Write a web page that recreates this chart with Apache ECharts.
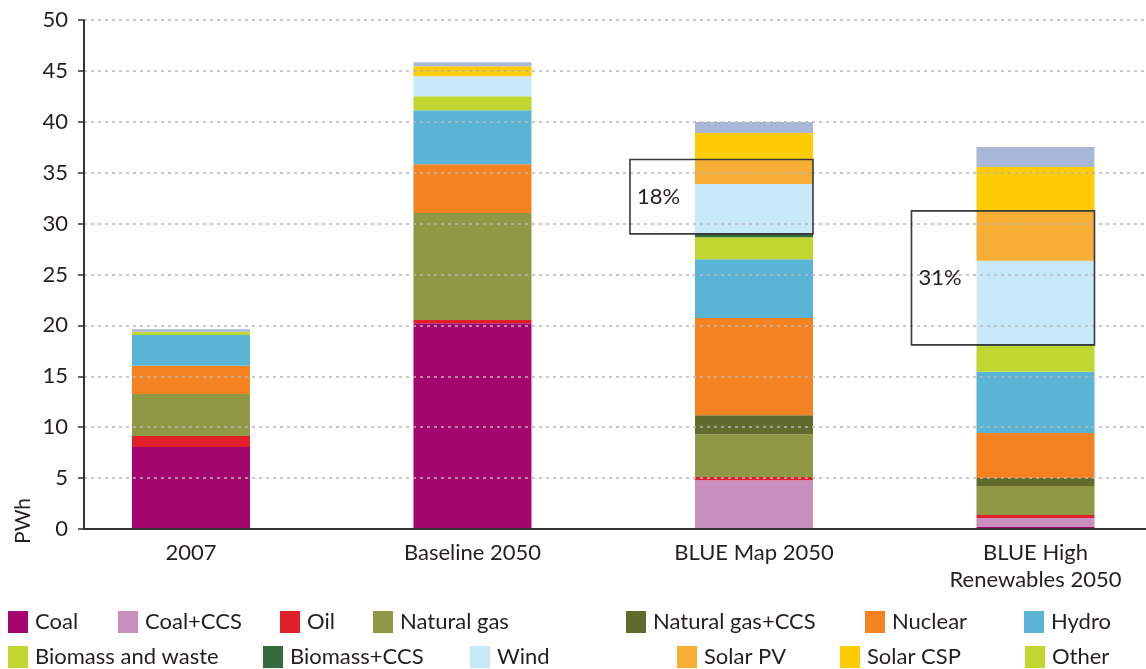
<!DOCTYPE html>
<html>
<head>
<meta charset="utf-8">
<script src="https://cdn.jsdelivr.net/npm/echarts@6/dist/echarts.min.js"></script>
<style>
html,body{margin:0;padding:0;background:#fff;}
#chart{width:1146px;height:669px;}
</style>
</head>
<body>
<div id="chart"></div>
<script>
// ---- data ----
const categories = ['2007', 'Baseline 2050', 'BLUE Map 2050', 'BLUE High\nRenewables 2050'];
const yTicks = [0, 5, 10, 15, 20, 25, 30, 35, 40, 45, 50];
const seriesNames = ['Coal', 'Coal+CCS', 'Oil', 'Natural gas', 'Natural gas+CCS', 'Nuclear', 'Hydro',
  'Biomass and waste', 'Biomass+CCS', 'Wind', 'Solar PV', 'Solar CSP', 'Other'];
const coal       = [8.05, 20.2, 0.1, 0.2];
const coalCCS    = [0, 0, 4.7, 0.88];
const oil        = [1.08, 0.33, 0.3, 0.3];
const natGas     = [4.13, 10.5, 4.2, 2.85];
const natGasCCS  = [0, 0, 1.87, 0.79];
const nuclear    = [2.78, 4.8, 9.56, 4.42];
const hydro      = [3.02, 5.3, 5.77, 6.0];
const biomass    = [0.32, 1.38, 2.16, 2.55];
const biomassCCS = [0, 0, 0.33, 0.1];
const wind       = [0, 1.96, 4.91, 8.25];
const solarPV    = [0, 0, 2.4, 4.91];
const solarCSP   = [0, 0.98, 2.6, 4.32];
const other      = [0.24, 0.4, 1.08, 1.96];
// share annotations: category index, label (box spans Wind + Solar PV)
const shareCats   = [2, 3];
const shareLabels = ['18%', '31%'];

// ---- styles / layout ----
const values = [coal, coalCCS, oil, natGas, natGasCCS, nuclear, hydro, biomass, biomassCCS, wind, solarPV, solarCSP, other];
const colors = ['#a4056e', '#c98fbf', '#e2202a', '#8f9845', '#616b2e', '#f58220', '#5ab4d6',
  '#bfd730', '#346a3d', '#c8e9f8', '#f7ae35', '#ffcb05', '#a9b8d8'];
const legendIconColor = {'Other': '#bfd730'};
const legendPos = {
  'Coal': [8, 0], 'Coal+CCS': [118, 0], 'Oil': [280, 0], 'Natural gas': [373, 0],
  'Natural gas+CCS': [626, 0], 'Nuclear': [865, 0], 'Hydro': [1024, 0],
  'Biomass and waste': [8, 1], 'Biomass+CCS': [263, 1], 'Wind': [470, 1],
  'Solar PV': [677, 1], 'Solar CSP': [840, 1], 'Other': [1025, 1]
};
const FONT = 'Lato';
const TXT = '#231f20';
const BAR_W = 118;
// x scale: categories sit at 0..3; the plot starts a bit left of the first one
const X_STEP = 0.02, X_MIN = -0.38, X_MAX = 3.3926;

// stacked segment bounds: [category, base, top]
function cum(cat, uptoIdx) { let s = 0; for (let i = 0; i <= uptoIdx; i++) s += values[i][cat]; return s; }
const segData = values.map((arr, i) => arr.map((v, k) => [k, cum(k, i) - v, cum(k, i)]));
const idxWind = seriesNames.indexOf('Wind');
const idxPV = seriesNames.indexOf('Solar PV');
const boxData = shareCats.map(c => [c, cum(c, idxWind - 1), cum(c, idxPV)]);

const chart = echarts.init(document.getElementById('chart'), null, {renderer: 'canvas'});

function renderSeg(params, api) {
  const lo = api.coord([api.value(0), api.value(1)]);
  const hi = api.coord([api.value(0), api.value(2)]);
  if (lo[1] - hi[1] <= 0) return null;
  return {
    type: 'rect',
    shape: {x: lo[0] - BAR_W / 2, y: hi[1], width: BAR_W, height: lo[1] - hi[1]},
    style: {fill: api.visual('color')}
  };
}

const barSeries = seriesNames.map((n, i) => ({
  name: n, type: 'custom', renderItem: renderSeg, data: segData[i],
  encode: {x: 0, y: [1, 2]}, itemStyle: {color: colors[i]},
  silent: true, animation: false
}));

const boxSeries = {
  type: 'custom', z: 10, data: boxData, animation: false, silent: true,
  encode: {x: 0, y: [1, 2]},
  renderItem: function (params, api) {
    const c = api.value(0);
    const lo = api.coord([c, api.value(1)]);
    const hi = api.coord([c, api.value(2)]);
    const right = lo[0] + BAR_W / 2;
    const left = lo[0] - BAR_W / 2 - 65;
    return {
      type: 'group',
      children: [
        {type: 'rect', shape: {x: left, y: hi[1], width: right - left, height: lo[1] - hi[1]},
          style: {fill: null, stroke: '#3a3a3a', lineWidth: 1.6}},
        {type: 'text', style: {text: shareLabels[params.dataIndex], x: left + 7, y: (lo[1] + hi[1]) / 2,
          verticalAlign: 'middle', align: 'left', font: '22px ' + FONT, fill: TXT}}
      ]
    };
  }
};

const legends = seriesNames.map(n => ({
  data: [legendIconColor[n] ? {name: n, itemStyle: {color: legendIconColor[n]}} : {name: n}],
  left: legendPos[n][0], top: legendPos[n][1] === 0 ? 611 : 646,
  padding: 0, itemWidth: 20, itemHeight: 22, icon: 'rect', selectedMode: false,
  textStyle: {fontFamily: FONT, fontSize: 22, color: TXT, padding: [8, 0, 0, 2]}
}));

chart.setOption({
  animation: false,
  grid: {left: 84, right: 0, top: 20, bottom: 140},
  xAxis: {
    type: 'value', min: X_MIN, max: X_MAX, interval: X_STEP, z: 10,
    axisLine: {show: true, onZero: false, lineStyle: {color: '#333', width: 2}},
    axisTick: {show: false}, splitLine: {show: false},
    axisLabel: {
      fontFamily: FONT, fontSize: 22, color: TXT, margin: 10, lineHeight: 27,
      showMinLabel: false, showMaxLabel: false,
      formatter: function (v) {
        const r = Math.round(v);
        return (Math.abs(v - r) < 1e-6 && r >= 0 && r < categories.length) ? categories[r] : '';
      }
    }
  },
  yAxis: {
    type: 'value', min: yTicks[0], max: yTicks[yTicks.length - 1], interval: yTicks[1] - yTicks[0], z: 10,
    axisLine: {show: true, onZero: false, lineStyle: {color: '#333', width: 2}},
    axisTick: {show: true, inside: false, length: 6, lineStyle: {color: '#333', width: 1.5}},
    axisLabel: {fontFamily: FONT, fontSize: 22, color: TXT, margin: 16},
    splitLine: {show: true, lineStyle: {color: '#b8b8b8', width: 1.5, type: [3, 4]}}
  },
  legend: legends,
  graphic: [
    {type: 'text', left: 13, top: 498, rotation: Math.PI / 2,
      style: {text: 'PWh', font: '21px ' + FONT, fill: TXT}}
  ],
  series: barSeries.concat([boxSeries])
});
</script>
</body>
</html>
